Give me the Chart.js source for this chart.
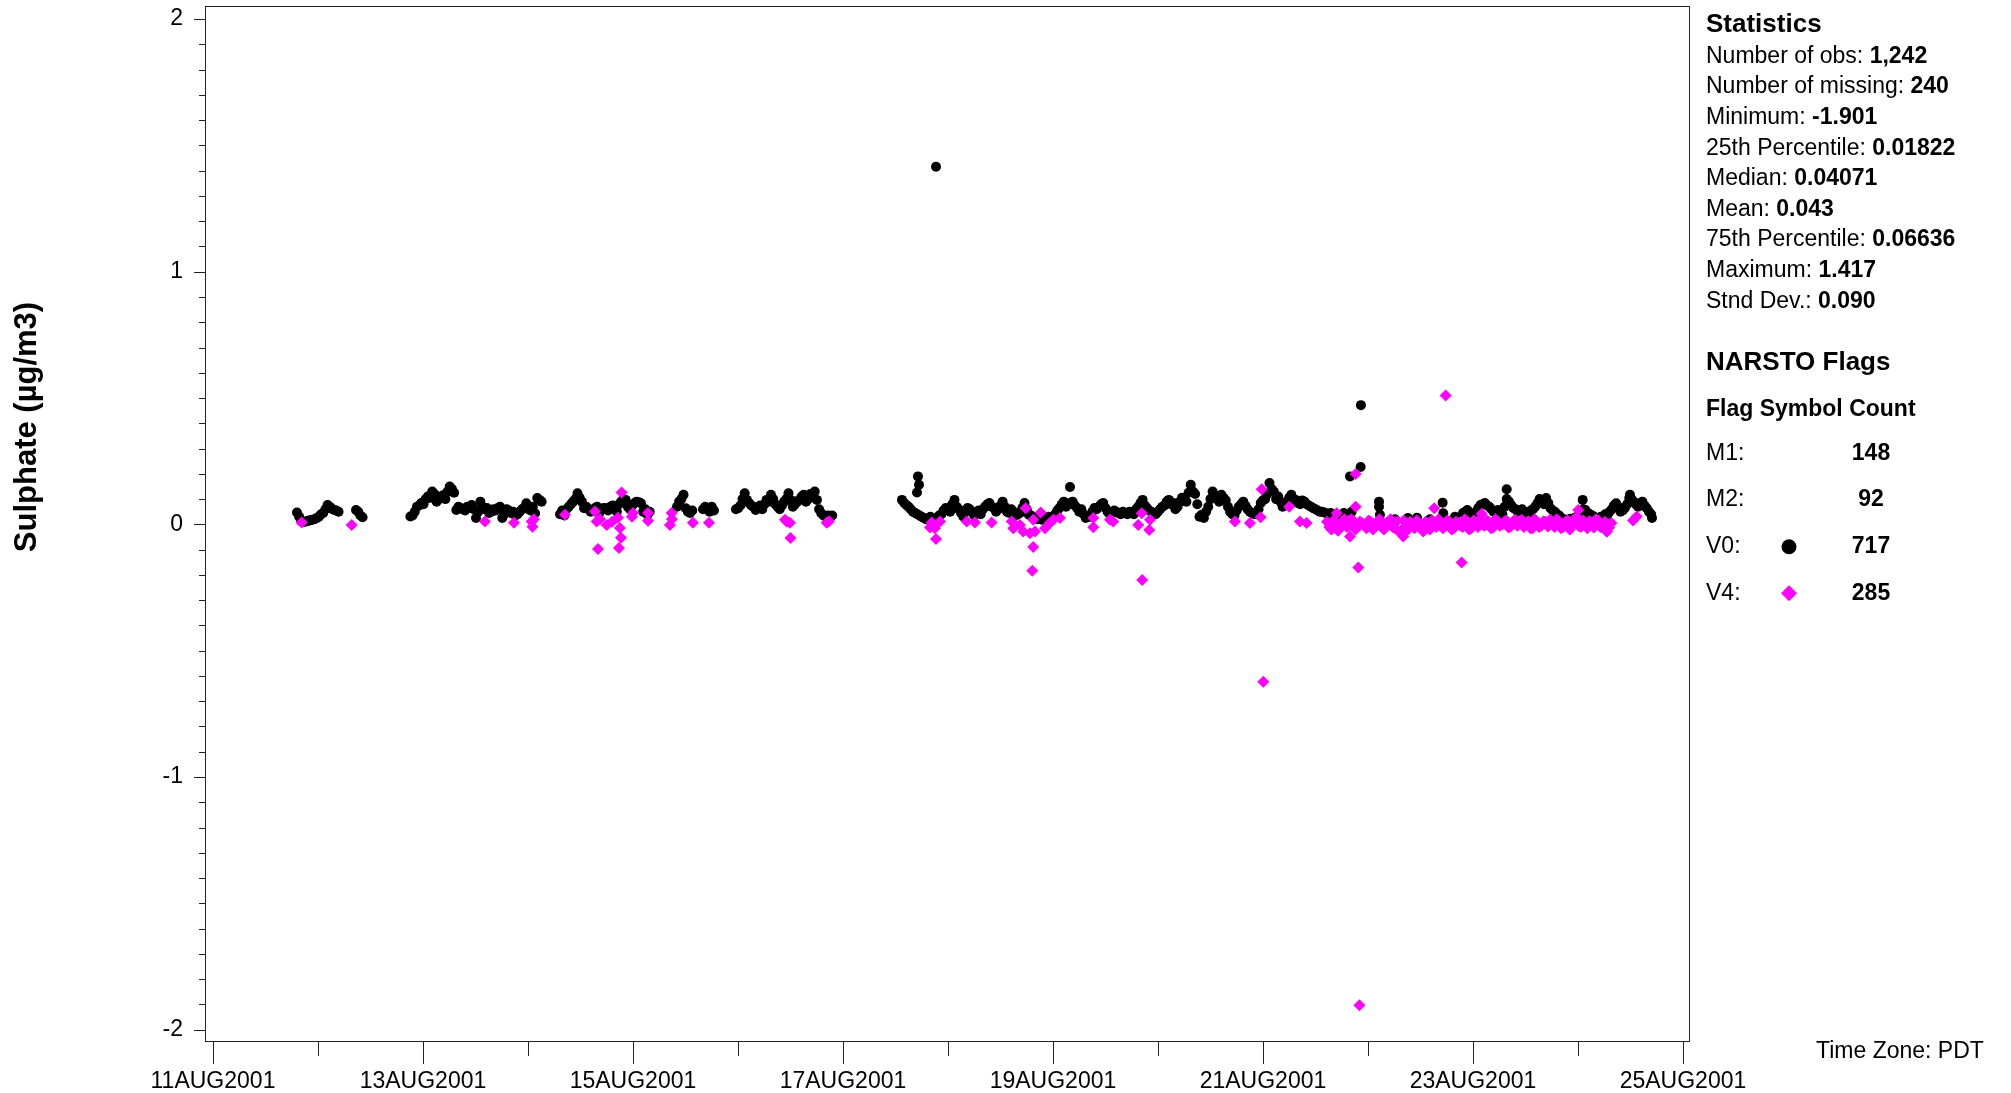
<!DOCTYPE html>
<html>
<head>
<meta charset="utf-8">
<title>Sulphate time series</title>
<script src="https://cdn.jsdelivr.net/npm/chart.js@4.4.1/dist/chart.umd.min.js"></script>
<style>
  html, body { margin: 0; padding: 0; background: #fff; }
  #wrap { width: 2011px; height: 1093px; }
</style>
</head>
<body>
<div id="wrap"><canvas id="sulphateChart" width="2011" height="1093"></canvas></div>
<script>
// x values are days after 11AUG2001 00:00 PDT
const xTickLabels = ["11AUG2001", "13AUG2001", "15AUG2001", "17AUG2001", "19AUG2001", "21AUG2001", "23AUG2001", "25AUG2001"];
const yTickLabels = [-2, -1, 0, 1, 2];

// V0 runs, one value every 30 min
const v0Run11a = [0.047, 0.03, 0.012, 0.01, 0.011, 0.014, 0.016, 0.018, 0.02, 0.024, 0.03, 0.04, 0.045, 0.06, 0.077, 0.07, 0.062, 0.057, 0.055, 0.05];
const v0Run12a = [0.057, 0.05, 0.035, 0.028];
const v0Run12b = [0.031, 0.035, 0.05, 0.07, 0.075, 0.085, 0.08, 0.1, 0.11, 0.105, 0.13, 0.12, 0.09, 0.1, 0.11, 0.115, 0.1, 0.13, 0.15, 0.14,
  0.125, 0.057, 0.07, 0.064, 0.06, 0.055, 0.07, 0.065, 0.077, 0.06, 0.025, 0.05, 0.09, 0.07, 0.06, 0.065, 0.045, 0.05, 0.06, 0.055,
  0.065, 0.07, 0.025, 0.04, 0.06, 0.055, 0.045, 0.05, 0.035, 0.04, 0.05, 0.06, 0.065, 0.084, 0.06, 0.055, 0.07, 0.044, 0.104, 0.097, 0.09];
const v0Run14 = [0.04, 0.055, 0.035, 0.06, 0.07, 0.08, 0.09, 0.1, 0.123, 0.105, 0.09, 0.064, 0.07, 0.06, 0.05, 0.055, 0.065, 0.07, 0.045, 0.06,
  0.065, 0.064, 0.055, 0.07, 0.075, 0.06, 0.05, 0.08, 0.09, 0.1, 0.097, 0.07, 0.06, 0.075, 0.084, 0.09, 0.088, 0.084, 0.05, 0.06, 0.038, 0.05];
const v0Run15a = [0.07, 0.09, 0.1, 0.117, 0.064, 0.05, 0.045, 0.055];
const v0Run15b = [0.06, 0.07, 0.065, 0.05, 0.07, 0.055];
const v0Run16 = [0.06, 0.064, 0.075, 0.1, 0.123, 0.097, 0.085, 0.075, 0.07, 0.057, 0.065, 0.075, 0.06, 0.08, 0.097, 0.09, 0.117, 0.1, 0.08, 0.07,
  0.06, 0.075, 0.09, 0.1, 0.123, 0.097, 0.07, 0.08, 0.09, 0.097, 0.11, 0.117, 0.09, 0.1, 0.12, 0.11, 0.13, 0.097, 0.06, 0.044,
  0.035, 0.031, 0.035, 0.03, 0.035];

// V0 runs 17-21 Aug and 22-24 Aug: on the hour, and on the half hour
const v0Run17 = [0.097, 0.077, 0.06, 0.045, 0.035, 0.025, 0.018, 0.022, 0.026, 0.04, 0.065, 0.05, 0.097, 0.06, 0.031, 0.065, 0.05, 0.045, 0.04, 0.07,
  0.085, 0.065, 0.06, 0.09, 0.05, 0.06, 0.035, 0.045, 0.085, 0.038, 0.03, 0.02, 0.018, 0.025, 0.02, 0.04, 0.065, 0.09, 0.08, 0.09,
  0.065, 0.06, 0.025, 0.03, 0.065, 0.07, 0.085, 0.05, 0.045, 0.05, 0.04, 0.045, 0.05, 0.04, 0.07, 0.097, 0.065, 0.05, 0.04, 0.06,
  0.075, 0.097, 0.085, 0.07, 0.105, 0.09, 0.157, 0.12, 0.03, 0.025, 0.07, 0.13, 0.1, 0.117, 0.095, 0.05, 0.035, 0.07, 0.09, 0.06,
  0.045, 0.04, 0.085, 0.1, 0.164, 0.13, 0.11, 0.07, 0.09, 0.117, 0.097, 0.08, 0.09, 0.075, 0.064, 0.055, 0.05, 0.044, 0.045, 0.035,
  0.03, 0.045];
const v0Run17Half = [0.085, 0.07, 0.05, 0.04, 0.03, 0.02, 0.03, 0.02, 0.035, 0.055, 0.06, 0.08, 0.07, 0.045, 0.05, 0.06, 0.035, 0.055, 0.06, 0.08,
  0.07, 0.05, 0.075, 0.07, 0.045, 0.05, 0.04, 0.065, 0.06, 0.035, 0.025, 0.03, 0.022, 0.03, 0.03, 0.055, 0.08, 0.07, 0.085, 0.075,
  0.05, 0.04, 0.03, 0.05, 0.06, 0.08, 0.065, 0.04, 0.055, 0.045, 0.05, 0.04, 0.045, 0.06, 0.085, 0.075, 0.055, 0.045, 0.05, 0.07,
  0.09, 0.08, 0.06, 0.09, 0.1, 0.125, 0.13, 0.08, 0.038, 0.05, 0.1, 0.115, 0.09, 0.105, 0.07, 0.04, 0.055, 0.08, 0.075, 0.05,
  0.04, 0.06, 0.095, 0.12, 0.14, 0.1, 0.09, 0.08, 0.105, 0.1, 0.085, 0.095, 0.08, 0.07, 0.06, 0.05, 0.047, 0.04, 0.04, 0.033,
  0.038];
const v0Run22 = [0.045, 0.057, 0.03, 0.05, 0.077, 0.085, 0.07, 0.05, 0.057, 0.04, 0.1, 0.077, 0.06, 0.055, 0.05, 0.045, 0.06, 0.084, 0.09, 0.104,
  0.064, 0.05, 0.035, 0.02, 0.015, 0.02, 0.03, 0.05, 0.057, 0.04, 0.03, 0.025, 0.028, 0.035, 0.06, 0.084, 0.05, 0.065, 0.104, 0.09,
  0.07, 0.09, 0.064, 0.04];
const v0Run22Half = [0.05, 0.04, 0.04, 0.065, 0.08, 0.075, 0.06, 0.045, 0.05, 0.07, 0.09, 0.065, 0.05, 0.06, 0.04, 0.055, 0.07, 0.1, 0.08, 0.085,
  0.055, 0.04, 0.025, 0.018, 0.022, 0.025, 0.04, 0.06, 0.045, 0.035, 0.02, 0.03, 0.04, 0.05, 0.075, 0.07, 0.055, 0.08, 0.1, 0.08,
  0.085, 0.075, 0.05];

// V0 single points [day, value]
const v0Points = [[6.705, 0.126], [6.714, 0.19], [6.724, 0.157], [6.886, 1.416], [8.162, 0.148], [10.829, 0.19], [10.845, 0.05],
  [10.93, 0.227], [10.933, 0.472], [11.105, 0.09], [11.105, 0.07], [11.114, 0.038], [11.257, 0.02], [11.381, 0.025], [11.467, 0.026],
  [11.59, 0.02], [11.711, 0.086], [11.717, 0.044], [11.829, 0.03], [12.321, 0.139], [13.045, 0.097], [13.495, 0.117], [13.705, 0.025]];

// V4 run 21-24 Aug: on the hour, and on the half hour
const v4Run21 = [0.01, -0.02, 0.005, -0.01, 0.02, -0.005, 0.015, -0.01, 0.005, -0.015, 0.01, -0.005, 0.02, -0.02, 0.0, -0.01, 0.012, -0.025, -0.005, 0.01,
  -0.015, 0.005, -0.028, 0.0, 0.015, -0.01, 0.008, -0.005, 0.01, -0.015, 0.005, -0.01, 0.01, -0.015, 0.005, 0.02, -0.005, 0.01, -0.012, 0.012,
  0.0, 0.015, -0.008, 0.018, 0.005, -0.01, 0.012, -0.015, 0.005, -0.005, 0.01, 0.018, -0.01, 0.012, -0.01, 0.015, 0.0, 0.03, -0.01, 0.005,
  0.012, -0.012, 0.015, -0.008, -0.028, 0.005];
const v4Run21Half = [-0.01, 0.015, -0.025, 0.01, -0.01, 0.02, -0.02, 0.01, -0.005, 0.015, -0.02, 0.01, -0.01, 0.005, 0.02, -0.015, -0.03, 0.015, -0.02, 0.0,
  0.015, -0.015, 0.01, -0.02, 0.0, 0.02, -0.015, 0.015, -0.02, 0.01, -0.005, 0.02, -0.02, 0.015, -0.01, 0.0, 0.015, -0.015, 0.02, -0.005,
  0.01, -0.012, 0.01, -0.005, 0.018, 0.0, -0.015, 0.02, -0.01, 0.012, -0.008, 0.005, 0.02, -0.015, 0.01, -0.02, 0.01, -0.005, 0.015, -0.015,
  0.005, 0.02, -0.01, 0.01, -0.012];

// V4 single points [day, value]
const v4Points = [[0.845, 0.007], [1.321, -0.002], [2.59, 0.011], [2.867, 0.006], [3.035, 0.011], [3.043, -0.009], [3.057, 0.02],
  [3.352, 0.038], [3.638, 0.051], [3.654, 0.011], [3.667, -0.097], [3.686, 0.02], [3.75, -0.002], [3.8, 0.01], [3.857, 0.026],
  [3.867, -0.093], [3.876, -0.014], [3.886, -0.053], [3.892, 0.126], [3.99, 0.03], [4.0, 0.045], [4.143, 0.045], [4.143, 0.014],
  [4.352, -0.002], [4.368, 0.045], [4.371, 0.02], [4.571, 0.006], [4.724, 0.006],
  [5.448, 0.018], [5.467, 0.01], [5.495, 0.006], [5.5, -0.054], [5.845, 0.006], [5.867, 0.012],
  [6.829, -0.012], [6.845, 0.007], [6.876, -0.015], [6.886, -0.058], [6.924, 0.011], [7.178, 0.011], [7.257, 0.007], [7.416, 0.007],
  [7.607, 0.011], [7.622, -0.015], [7.686, -0.002], [7.717, -0.028], [7.74, 0.064], [7.781, -0.035], [7.803, -0.184], [7.812, 0.018],
  [7.812, -0.09], [7.829, -0.028], [7.883, 0.047], [7.924, -0.015], [7.971, 0.005], [8.003, 0.018], [8.067, 0.025],
  [8.384, 0.025], [8.384, -0.011], [8.543, 0.018], [8.574, 0.011], [8.812, -0.002], [8.845, 0.044], [8.85, -0.22], [8.917, -0.022], [8.924, 0.018],
  [9.733, 0.011], [9.876, 0.005], [9.978, 0.028], [9.988, 0.139], [10.003, -0.623], [10.25, 0.07], [10.352, 0.011], [10.416, 0.005],
  [10.702, 0.044], [10.829, -0.048], [10.883, 0.07], [10.883, 0.199], [10.908, -0.171], [10.919, -1.903], [11.336, -0.048],
  [11.631, 0.064], [11.74, 0.51], [11.892, -0.151], [12.083, 0.042], [13.003, 0.057], [13.273, -0.028], [13.524, 0.015], [13.559, 0.031]];

const statLabels = ["Number of obs: ", "Number of missing: ", "Minimum: ", "25th Percentile: ", "Median: ", "Mean: ", "75th Percentile: ", "Maximum: ", "Stnd Dev.: "];
const statValues = ["1,242", "240", "-1.901", "0.01822", "0.04071", "0.043", "0.06636", "1.417", "0.090"];
const flagNames = ["M1:", "M2:", "V0:", "V4:"];
const flagCounts = [148, 92, 717, 285];

function run(start, stepHours, values) {
  return values.map((v, i) => ({ x: start + (i * stepHours) / 24, y: v }));
}
const pairs = (list) => list.map(([x, y]) => ({ x, y }));

const v0Data = [
  ...run(0.8, 0.5, v0Run11a),
  ...run(1.362, 0.5, v0Run12a),
  ...run(1.88, 0.5, v0Run12b),
  ...run(3.305, 0.5, v0Run14),
  ...run(4.419, 0.5, v0Run15a),
  ...run(4.667, 0.5, v0Run15b),
  ...run(4.981, 0.5, v0Run16),
  ...run(6.562, 1, v0Run17),
  ...run(6.583, 1, v0Run17Half),
  ...run(11.905, 1, v0Run22),
  ...run(11.926, 1, v0Run22Half),
  ...pairs(v0Points),
];
const v4Data = [...run(10.61, 1, v4Run21), ...run(10.631, 1, v4Run21Half), ...pairs(v4Points)];

const FONT = '"Liberation Sans", Arial, Helvetica, sans-serif';

const decor = {
  id: "decor",
  beforeDatasetsDraw(chart) {
    const { ctx, chartArea: a, scales } = chart;
    const x = scales.x, y = scales.y;
    ctx.save();
    ctx.strokeStyle = "#222";
    ctx.lineWidth = 1;
    ctx.strokeRect(a.left + 0.5, a.top + 0.5, a.right - a.left - 1, a.bottom - a.top);
    ctx.beginPath();
    y.ticks.forEach((t) => {
      const py = Math.round(y.getPixelForValue(t.value)) + 0.5;
      const major = Math.abs(t.value - Math.round(t.value)) < 1e-6;
      ctx.moveTo(a.left - (major ? 11 : 6), py);
      ctx.lineTo(a.left, py);
    });
    x.ticks.forEach((t) => {
      const px = Math.round(x.getPixelForValue(t.value)) + 0.5;
      const major = Math.round(t.value) % 2 === 0;
      ctx.moveTo(px, a.bottom + 1);
      ctx.lineTo(px, a.bottom + (major ? 23 : 15));
    });
    ctx.stroke();
    ctx.restore();
  },
  afterDraw(chart) {
    const { ctx } = chart;
    ctx.save();
    ctx.fillStyle = "#000";
    ctx.textBaseline = "middle";

    // y axis title
    ctx.save();
    ctx.translate(27, 427);
    ctx.rotate(-Math.PI / 2);
    ctx.textAlign = "center";
    ctx.font = "bold 31px " + FONT;
    ctx.fillText("Sulphate (µg/m3)", 0, 0);
    ctx.restore();

    // statistics panel
    const left = 1706;
    ctx.textAlign = "left";
    ctx.font = "bold 26px " + FONT;
    ctx.fillText("Statistics", left, 24.5);
    statLabels.forEach((label, i) => {
      const py = 56.5 + i * 30.6;
      ctx.font = "23px " + FONT;
      ctx.fillText(label, left, py);
      const w = ctx.measureText(label).width;
      ctx.font = "bold 23px " + FONT;
      ctx.fillText(statValues[i], left + w, py);
    });

    ctx.font = "bold 26px " + FONT;
    ctx.fillText("NARSTO Flags", left, 362.5);
    ctx.font = "bold 23px " + FONT;
    ctx.fillText("Flag Symbol Count", left, 409.5);

    flagNames.forEach((name, i) => {
      const py = 453.5 + i * 46.6;
      ctx.textAlign = "left";
      ctx.font = "23px " + FONT;
      ctx.fillText(name, left, py);
      ctx.textAlign = "center";
      ctx.font = "bold 23px " + FONT;
      ctx.fillText(String(flagCounts[i]), 1871, py);
      if (name === "V0:") {
        ctx.beginPath();
        ctx.arc(1789, py, 7.5, 0, Math.PI * 2);
        ctx.fill();
      } else if (name === "V4:") {
        ctx.save();
        ctx.fillStyle = "#ff00ff";
        ctx.beginPath();
        ctx.moveTo(1789, py - 8);
        ctx.lineTo(1797, py);
        ctx.lineTo(1789, py + 8);
        ctx.lineTo(1781, py);
        ctx.closePath();
        ctx.fill();
        ctx.restore();
      }
    });

    ctx.textAlign = "left";
    ctx.font = "23px " + FONT;
    ctx.fillText("Time Zone: PDT", 1816, 1051.5);
    ctx.restore();
  },
};

const ctx = document.getElementById("sulphateChart").getContext("2d");

new Chart(ctx, {
  type: "scatter",
  data: {
    datasets: [
      {
        label: "V4",
        data: v4Data,
        pointStyle: "rectRot",
        pointRadius: 6,
        backgroundColor: "#ff00ff",
        borderWidth: 0,
        order: 0,
      },
      {
        label: "V0",
        data: v0Data,
        pointStyle: "circle",
        pointRadius: 5,
        backgroundColor: "#000000",
        borderWidth: 0,
        order: 1,
      },
    ],
  },
  options: {
    responsive: false,
    animation: false,
    devicePixelRatio: 1,
    layout: { padding: { left: 0, top: 6, right: 321, bottom: 0 } },
    plugins: {
      legend: { display: false },
      tooltip: { enabled: false },
    },
    scales: {
      x: {
        type: "linear",
        min: -0.076,
        max: 14.067,
        grid: { display: false, drawTicks: false, tickLength: 0 },
        border: { display: false },
        afterBuildTicks: (scale) => {
          scale.ticks = Array.from({ length: 15 }, (_, d) => ({ value: d }));
        },
        afterFit: (scale) => {
          scale.height = 52;
          scale.paddingLeft = 0;
          scale.paddingRight = 0;
        },
        ticks: {
          autoSkip: false,
          maxRotation: 0,
          minRotation: 0,
          padding: 27,
          color: "#000",
          font: { family: FONT, size: 23 },
          callback: (value) => (value % 2 === 0 ? xTickLabels[value / 2] : ""),
        },
      },
      y: {
        type: "linear",
        min: -2.045,
        max: 2.052,
        grid: { display: false, drawTicks: false, tickLength: 0 },
        border: { display: false },
        afterBuildTicks: (scale) => {
          scale.ticks = Array.from({ length: 41 }, (_, i) => ({ value: (i - 20) / 10 }));
        },
        afterFit: (scale) => {
          scale.width = 205;
          scale.paddingTop = 0;
          scale.paddingBottom = 0;
        },
        ticks: {
          autoSkip: false,
          padding: 22,
          color: "#000",
          font: { family: FONT, size: 23 },
          callback: (value) => (yTickLabels.includes(value) ? String(value) : ""),
        },
      },
    },
  },
  plugins: [decor],
});
</script>
</body>
</html>
